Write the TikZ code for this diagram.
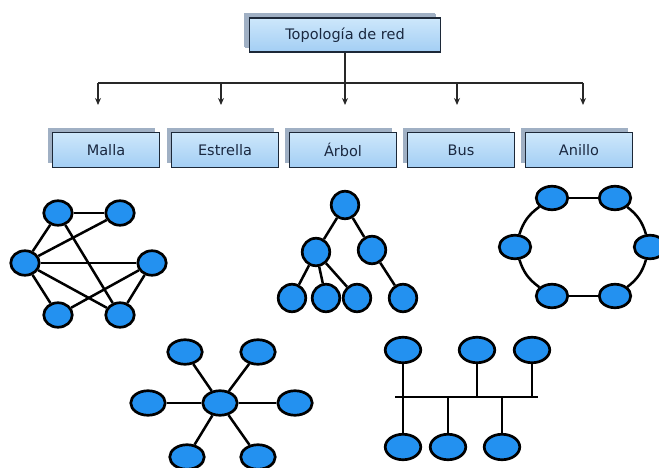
\documentclass[tikz,border=0pt]{standalone}
\usepackage{fontspec}
\setmainfont{DejaVu Sans}
\usetikzlibrary{shapes.geometric,shadows,arrows.meta}
\definecolor{boxtop}{RGB}{205,231,251}
\definecolor{boxbot}{RGB}{163,206,244}
\definecolor{boxline}{RGB}{28,40,56}
\definecolor{shadowc}{RGB}{160,176,196}
\definecolor{labeltext}{RGB}{26,40,64}
\definecolor{hostblue}{RGB}{35,145,240}
\definecolor{wirec}{RGB}{40,40,40}
\begin{document}
\begin{tikzpicture}[x=1pt,y=-1pt,
  catbox/.style={rectangle, draw=boxline, line width=1.5pt,
    top color=boxtop, bottom color=boxbot, text=labeltext,
    minimum width=107pt, minimum height=35pt, inner sep=0pt,
    font=\fontsize{14.5}{17}\selectfont,
    general shadow={shadow xshift=-5pt, shadow yshift=4pt, fill=shadowc}},
  titlebox/.style={catbox, minimum width=191pt, minimum height=34pt,
    general shadow={shadow xshift=-6pt, shadow yshift=5pt, fill=shadowc}},
  tree/.style={draw=wirec, line width=1.3pt},
  branch/.style={tree, -{Stealth[length=7pt,width=6pt]}},
  host/.style={ellipse, draw=black, line width=2.7pt, fill=hostblue, inner sep=0pt},
  hmesh/.style={host, minimum width=28.5pt, minimum height=24.5pt},
  htree/.style={host, minimum width=27.5pt, minimum height=27.5pt},
  hring/.style={host, minimum width=31.5pt, minimum height=23.5pt},
  hstar/.style={host, minimum width=34.5pt, minimum height=24.5pt},
  hbus/.style={host, minimum width=35.5pt, minimum height=25.5pt},
  link/.style={draw=black, line width=2.5pt},
]
\useasboundingbox (0,0) rectangle (659,468);

% ---- heading and categories ----
\node[titlebox] (title) at (345,35) {Topología de red};
\node[catbox] (malla)    at (106,150) {Malla};
\node[catbox] (estrella) at (225,150) {Estrella};
\node[catbox] (arbol)    at (343,150) {Árbol};
\node[catbox] (bus)      at (461,150) {Bus};
\node[catbox] (anillo)   at (579,150) {Anillo};

\coordinate (hub) at (345,83);
\coordinate (j1) at (98,83);  \coordinate (t1) at (98,105);
\coordinate (j2) at (221,83); \coordinate (t2) at (221,105);
\coordinate (j3) at (345,83); \coordinate (t3) at (345,105);
\coordinate (j4) at (457,83); \coordinate (t4) at (457,105);
\coordinate (j5) at (583,83); \coordinate (t5) at (583,105);

\draw[tree] (title.south) -- (hub);
\draw[tree] (j1) -- (j5);
\foreach \i in {1,...,5} \draw[branch] (j\i) -- (t\i);

% ---- mesh ----
\node[hmesh] (m1) at (58,213) {};
\node[hmesh] (m2) at (120,213) {};
\node[hmesh] (m3) at (25,263) {};
\node[hmesh] (m4) at (152,263) {};
\node[hmesh] (m5) at (58,315) {};
\node[hmesh] (m6) at (120,315) {};
\draw[link] (m1) -- (m2);
\draw[link] (m1) -- (m3);
\draw[link] (m3) -- (m2);
\draw[link] (m1) -- (m6);
\draw[link] (m3) -- (m4);
\draw[link] (m3) -- (m5);
\draw[link] (m3) -- (m6);
\draw[link] (m5) -- (m4);
\draw[link] (m4) -- (m6);

% ---- tree ----
\node[htree] (r0) at (345,205) {};
\node[htree] (r1) at (316,252) {};
\node[htree] (r2) at (372,250) {};
\node[htree] (r3) at (292,298) {};
\node[htree] (r4) at (326,298) {};
\node[htree] (r5) at (357,298) {};
\node[htree] (r6) at (403,298) {};
\draw[link] (r0) -- (r1);
\draw[link] (r0) -- (r2);
\draw[link] (r1) -- (r3);
\draw[link] (r1) -- (r4);
\draw[link] (r1) -- (r5);
\draw[link] (r2) -- (r6);

% ---- ring ----
\node[hring] (a1) at (552,198) {};
\node[hring] (a2) at (615,198) {};
\node[hring] (a3) at (515,247) {};
\node[hring] (a4) at (650,247) {};
\node[hring] (a5) at (552,296) {};
\node[hring] (a6) at (615,296) {};
\draw[link] (a1) -- (a2);
\draw[link] (a1) to[bend right=18] (a3);
\draw[link] (a3) to[bend right=18] (a5);
\draw[link] (a5) -- (a6);
\draw[link] (a6) to[bend right=18] (a4);
\draw[link] (a4) to[bend right=18] (a2);

% ---- star ----
\node[hstar] (s0) at (220,403) {};
\node[hstar] (s1) at (185,352) {};
\node[hstar] (s2) at (258,352) {};
\node[hstar] (s3) at (148,403) {};
\node[hstar] (s4) at (295,403) {};
\node[hstar] (s5) at (187,457) {};
\node[hstar] (s6) at (258,457) {};
\foreach \i in {1,...,6} \draw[link] (s0) -- (s\i);

% ---- bus ----
\node[hbus] (b1) at (403,350) {};
\node[hbus] (b2) at (477,350) {};
\node[hbus] (b3) at (532,350) {};
\node[hbus] (b4) at (403,447) {};
\node[hbus] (b5) at (448,447) {};
\node[hbus] (b6) at (502,447) {};
\coordinate (busl) at (395,397);
\coordinate (busr) at (538,397);
\draw[link] (busl) -- (busr);
\draw[link] (b1) -- (b4);
\draw[link] (b2) -- (b2 |- busl);
\draw[link] (b3) -- (b3 |- busl);
\draw[link] (b5) -- (b5 |- busl);
\draw[link] (b6) -- (b6 |- busl);
\end{tikzpicture}
\end{document}
